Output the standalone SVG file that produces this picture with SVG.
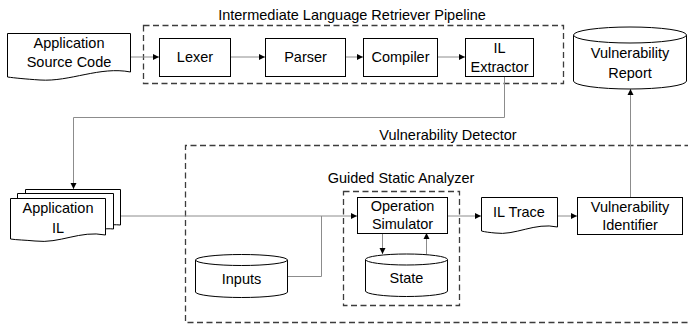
<svg xmlns="http://www.w3.org/2000/svg" width="688" height="326" viewBox="0 0 688 326">
<defs>
<style>
.n{fill:#fff;stroke:#000;stroke-width:1}
.d{fill:none;stroke:#3c3c3c;stroke-width:1.3;stroke-dasharray:6 3.5}
.c{fill:none;stroke:#8c8c8c;stroke-width:1}
text{font-family:"Liberation Sans",Arial,sans-serif;font-size:14.5px;fill:#000;text-anchor:middle}
</style>
<marker id="ah" markerUnits="userSpaceOnUse" markerWidth="7" markerHeight="7" refX="6" refY="3.5" orient="auto">
<path d="M0,0.5 L6,3.5 L0,6.5 Z" fill="#000"/>
</marker>
</defs>
<rect width="688" height="326" fill="#fff"/>

<g id="pipeline">
<rect class="d" x="143.5" y="25.5" width="420" height="58"/>
<text x="352" y="20">Intermediate Language Retriever Pipeline</text>
</g>
<g id="detector">
<path class="d" d="M700,145.5 H185.5 V322.5 H700"/>
<text x="448" y="140">Vulnerability Detector</text>
</g>
<g id="guided">
<rect class="d" x="343.5" y="191.5" width="116" height="114"/>
<text x="401" y="183">Guided Static Analyzer</text>
</g>

<g id="connectors">
<path class="c" d="M131,57 H159" marker-end="url(#ah)"/>
<path class="c" d="M230,57 H265" marker-end="url(#ah)"/>
<path class="c" d="M345,57 H363" marker-end="url(#ah)"/>
<path class="c" d="M437,57 H465" marker-end="url(#ah)"/>
<path class="c" d="M504.5,77 V117.5 H73.5 V189" marker-end="url(#ah)"/>
<path class="c" d="M120,216 H357" marker-end="url(#ah)"/>
<path class="c" d="M287,276.5 H321.5 V216"/>
<path class="c" d="M382.5,233 V254" marker-end="url(#ah)"/>
<path class="c" d="M426.5,254 V233" marker-end="url(#ah)"/>
<path class="c" d="M447,216 H481" marker-end="url(#ah)"/>
<path class="c" d="M557,216 H577" marker-end="url(#ah)"/>
<path class="c" d="M630.5,197 V89" marker-end="url(#ah)"/>
</g>

<g id="source">
<path class="n" d="M7.5,33.5 H130.5 V72 C100,66 70,82 40,80 C25,79 15,78 7.5,77 Z"/>
<text x="69" y="48">Application</text>
<text x="69" y="67">Source Code</text>
</g>
<g id="lexer">
<rect class="n" x="159.5" y="38.5" width="71" height="38"/>
<text x="195" y="62">Lexer</text>
</g>
<g id="parser">
<rect class="n" x="265.5" y="38.5" width="80" height="38"/>
<text x="305.5" y="62">Parser</text>
</g>
<g id="compiler">
<rect class="n" x="363.5" y="38.5" width="74" height="38"/>
<text x="400.5" y="62">Compiler</text>
</g>
<g id="ilextractor">
<rect class="n" x="465.5" y="38.5" width="68" height="38"/>
<text x="499.5" y="53">IL</text>
<text x="499.5" y="72">Extractor</text>
</g>
<g id="report">
<path class="n" d="M573.5,35 V81 A56.5,8 0 0 0 686.5,81 V35 A56.5,8 0 0 0 573.5,35 Z"/>
<path class="n" d="M573.5,35 A56.5,8 0 0 0 686.5,35"/>
<text x="630" y="58">Vulnerability</text>
<text x="630" y="78">Report</text>
</g>
<g id="appil">
<path class="n" d="M25.5,189.5 H120.5 V225 C110,224 100,226 90,228 L25.5,228 Z"/>
<path class="n" d="M17.5,193.5 H113.5 V229 C105,228 95,230 85,232 L17.5,232 Z"/>
<path class="n" d="M10.5,198.5 H105.5 V235 C80,230 60,244 35,241 C25,240 17,240 10.5,239 Z"/>
<text x="58" y="213">Application</text>
<text x="58" y="233">IL</text>
</g>
<g id="inputs">
<path class="n" d="M195.5,260 V292 A46,5.5 0 0 0 287.5,292 V260 A46,5.5 0 0 0 195.5,260 Z"/>
<path class="n" d="M195.5,260 A46,5.5 0 0 0 287.5,260"/>
<text x="241.5" y="284">Inputs</text>
</g>
<g id="opsim">
<rect class="n" x="357.5" y="197.5" width="90" height="36"/>
<text x="402.5" y="211">Operation</text>
<text x="402.5" y="229">Simulator</text>
</g>
<g id="state">
<path class="n" d="M365.5,259.5 V291 A41,5.5 0 0 0 447.5,291 V259.5 A41,5.5 0 0 0 365.5,259.5 Z"/>
<path class="n" d="M365.5,259.5 A41,5.5 0 0 0 447.5,259.5"/>
<text x="406.5" y="283">State</text>
</g>
<g id="iltrace">
<path class="n" d="M481.5,197.5 H557.5 V227 C535,222 515,236 495,233 C490,232.5 485,232 481.5,231 Z"/>
<text x="519" y="217">IL Trace</text>
</g>
<g id="vi">
<rect class="n" x="577.5" y="197.5" width="105" height="37"/>
<text x="630" y="212">Vulnerability</text>
<text x="630" y="230">Identifier</text>
</g>
</svg>
